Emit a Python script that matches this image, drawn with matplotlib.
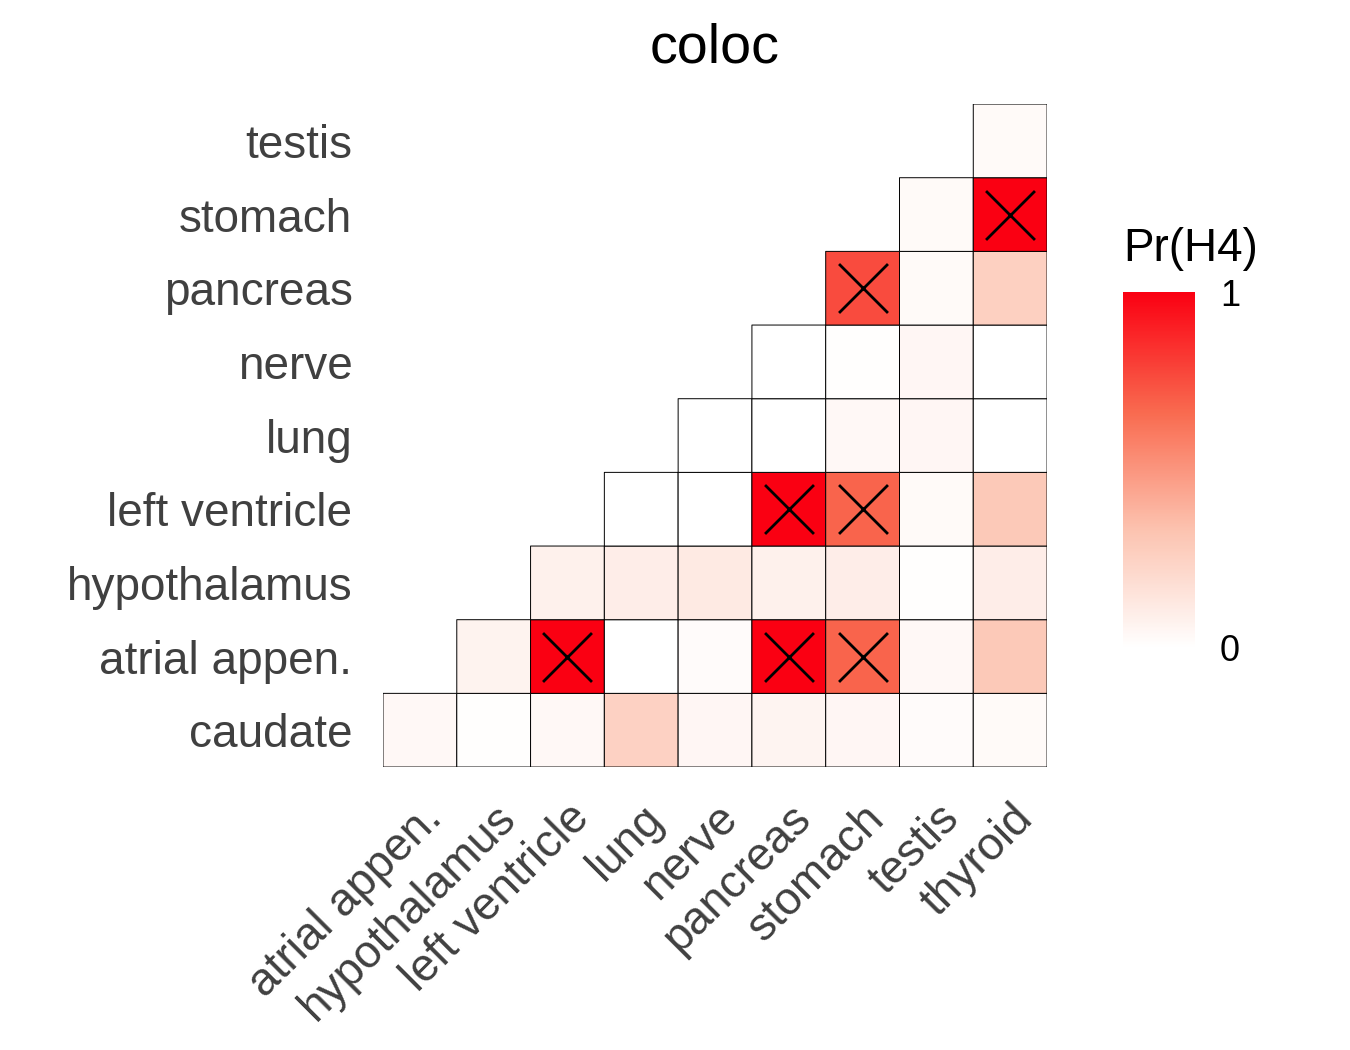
import numpy as np
import matplotlib
matplotlib.use("Agg")
import matplotlib.pyplot as plt
from matplotlib.colors import LinearSegmentedColormap

plt.rcParams['font.family'] = ['Liberation Sans', 'DejaVu Sans']

row_labels = ["caudate", "atrial appen.", "hypothalamus", "left ventricle",
              "lung", "nerve", "pancreas", "stomach", "testis"]
col_labels = ["atrial appen.", "hypothalamus", "left ventricle", "lung",
              "nerve", "pancreas", "stomach", "testis", "thyroid"]

# Pr(H4) values, each row lists the cells from its first column to thyroid
row_caudate = [0.04, 0.01, 0.04, 0.25, 0.05, 0.06, 0.05, 0.02, 0.03]
row_atrial = [0.07, 1.00, 0.00, 0.02, 1.00, 0.68, 0.04, 0.30]
row_hypoth = [0.08, 0.10, 0.12, 0.08, 0.10, 0.01, 0.10]
row_leftv = [0.00, 0.00, 1.00, 0.68, 0.03, 0.30]
row_lung = [0.00, 0.00, 0.04, 0.05, 0.00]
row_nerve = [0.00, 0.01, 0.05, 0.00]
row_pancreas = [0.76, 0.03, 0.26]
row_stomach = [0.03, 1.00]
row_testis = [0.03]
rows = [row_caudate, row_atrial, row_hypoth, row_leftv, row_lung,
        row_nerve, row_pancreas, row_stomach, row_testis]

# colocalised pairs (marked with X): (row label, column label)
coloc_pairs = [("atrial appen.", "left ventricle"), ("atrial appen.", "pancreas"),
               ("atrial appen.", "stomach"), ("left ventricle", "pancreas"),
               ("left ventricle", "stomach"), ("pancreas", "stomach"),
               ("stomach", "thyroid")]

n = len(col_labels)
Z = np.full((n, n), np.nan)
for i, vals in enumerate(rows):
    start = n - len(vals)
    Z[i, start:] = vals
Zm = np.ma.masked_invalid(Z)

cmap = LinearSegmentedColormap.from_list(
    "wr", [(0.0, "#FFFFFF"), (0.33, "#FCC3B0"), (0.66, "#F96B50"), (1.0, "#FA0012")])

fig = plt.figure(figsize=(13.5, 10.5), dpi=100)
ax = fig.add_axes([0.2837, 0.2695, 0.4919, 0.6314])
mesh = ax.pcolor(np.arange(n + 1), np.arange(n + 1), Zm, cmap=cmap,
                 vmin=0, vmax=1, edgecolors="black", linewidth=0.7)
xs = [col_labels.index(c) + 0.5 for r, c in coloc_pairs]
ys = [row_labels.index(r) + 0.5 for r, c in coloc_pairs]
ax.scatter(xs, ys, marker="x", s=1240, c="black", linewidths=2.0, zorder=3)

ax.set_xlim(0, n)
ax.set_ylim(0, n)
ax.set_xticks(np.arange(n) + 0.5)
ax.set_yticks(np.arange(n) + 0.5)
ax.set_xticklabels(col_labels, rotation=45, ha="right", va="top",
                   rotation_mode="anchor", fontsize=33, color="#404040")
ax.set_yticklabels(row_labels, fontsize=33, color="#404040")
ax.tick_params(length=0, pad=22)
ax.tick_params(axis="x", pad=21)
for s in ax.spines.values():
    s.set_visible(False)
ax.set_title("coloc", fontsize=40, pad=30)

cax = fig.add_axes([0.8319, 0.3829, 0.0533, 0.339])
cb = fig.colorbar(mesh, cax=cax, ticks=[0, 1])
cb.outline.set_visible(False)
cb.ax.tick_params(length=0, labelsize=26, pad=18)
cb.ax.set_yticklabels(["0", "1"])
cax.set_title("Pr(H4)", fontsize=33, pad=22, loc="left", x=0.0)

fig.savefig("out.png", dpi=100)
